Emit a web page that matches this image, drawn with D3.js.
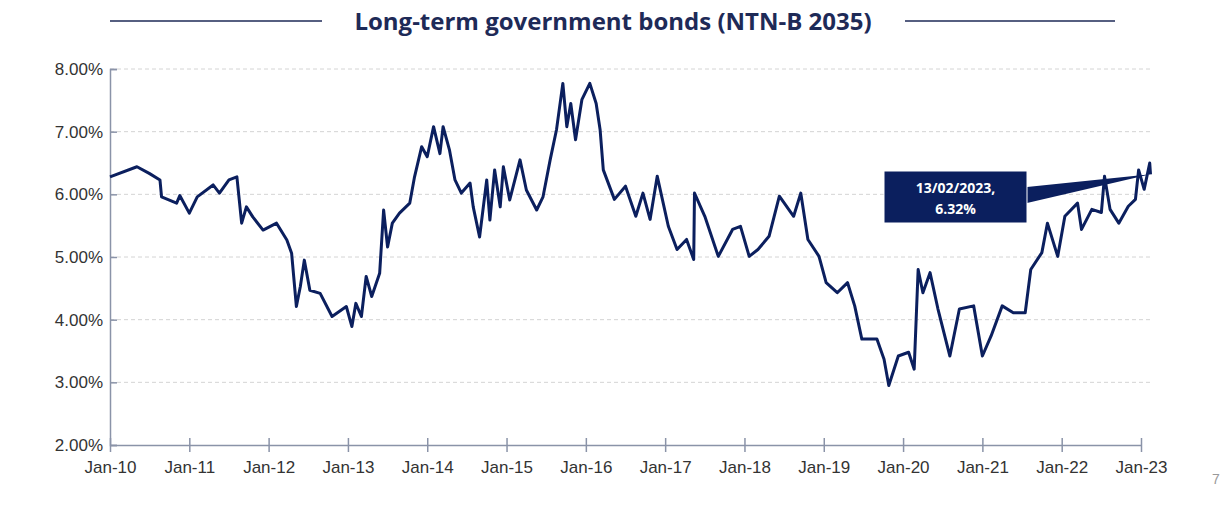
<!DOCTYPE html>
<html>
<head>
<meta charset="utf-8">
<script src="https://cdn.jsdelivr.net/npm/d3@7/dist/d3.min.js"></script>
<style>
  body { margin: 0; background: #fff; }
  svg { display: block; }
</style>
</head>
<body>
<div id="chart"></div>
<script>
// Data: decimal year and yield (%)
var years = [2010.0, 2010.34, 2010.5, 2010.63, 2010.65, 2010.84, 2010.88, 2011.0, 2011.1, 2011.3, 2011.38, 2011.5, 2011.6, 2011.66, 2011.72, 2011.8, 2011.93,
  2012.1, 2012.23, 2012.29, 2012.35, 2012.4, 2012.45, 2012.52, 2012.65, 2012.8, 2012.98, 2013.05, 2013.1, 2013.17, 2013.23, 2013.3, 2013.4,
  2013.45, 2013.5, 2013.56, 2013.65, 2013.78, 2013.84, 2013.93, 2014.0, 2014.08, 2014.16, 2014.2, 2014.28, 2014.35, 2014.43, 2014.54,
  2014.58, 2014.66, 2014.75, 2014.79, 2014.85, 2014.92, 2014.96, 2015.04, 2015.17, 2015.25, 2015.38, 2015.46, 2015.55, 2015.63, 2015.71,
  2015.76, 2015.81, 2015.87, 2015.95, 2016.05, 2016.13, 2016.18, 2016.22, 2016.36, 2016.5, 2016.63, 2016.72, 2016.81, 2016.9, 2017.04,
  2017.15, 2017.27, 2017.36, 2017.37, 2017.5, 2017.67, 2017.85, 2017.95, 2018.06, 2018.17, 2018.31, 2018.44, 2018.62, 2018.71, 2018.8,
  2018.94, 2019.03, 2019.17, 2019.3, 2019.39, 2019.48, 2019.67, 2019.76, 2019.82, 2019.94, 2020.07, 2020.14, 2020.19, 2020.25, 2020.34,
  2020.44, 2020.59, 2020.71, 2020.89, 2021.0, 2021.11, 2021.25, 2021.39, 2021.54, 2021.61, 2021.75, 2021.82, 2021.95, 2022.04, 2022.2,
  2022.25, 2022.38, 2022.5, 2022.54, 2022.61, 2022.72, 2022.84, 2022.93, 2022.97, 2023.04, 2023.11, 2023.12];
var yields = [6.28, 6.44, 6.33, 6.23, 5.96, 5.86, 5.98, 5.70, 5.96, 6.15, 6.02, 6.23, 6.28, 5.54, 5.80, 5.64, 5.43,
  5.54, 5.27, 5.06, 4.21, 4.53, 4.95, 4.47, 4.42, 4.05, 4.21, 3.89, 4.26, 4.05, 4.69, 4.37, 4.74,
  5.75, 5.16, 5.54, 5.70, 5.86, 6.28, 6.76, 6.60, 7.08, 6.65, 7.08, 6.71, 6.23, 6.02, 6.18,
  5.80, 5.32, 6.23, 5.59, 6.39, 5.80, 6.44, 5.91, 6.55, 6.07, 5.75, 5.96, 6.55, 7.03, 7.77,
  7.08, 7.45, 6.87, 7.51, 7.77, 7.45, 7.03, 6.39, 5.92, 6.13, 5.65, 6.02, 5.60, 6.29, 5.49,
  5.12, 5.28, 4.96, 6.02, 5.65, 5.01, 5.44, 5.49, 5.01, 5.12, 5.33, 5.97, 5.65, 6.02, 5.28,
  5.01, 4.59, 4.43, 4.59, 4.22, 3.69, 3.69, 3.37, 2.95, 3.42, 3.48, 3.21, 4.80, 4.43, 4.75,
  4.17, 3.42, 4.17, 4.22, 3.42, 3.74, 4.22, 4.11, 4.11, 4.80, 5.07, 5.54, 5.01, 5.65, 5.86,
  5.44, 5.76, 5.71, 6.29, 5.76, 5.54, 5.81, 5.92, 6.39, 6.08, 6.50, 6.32];
var yTicks = [2, 3, 4, 5, 6, 7, 8];
var xTickYears = [2010, 2011, 2012, 2013, 2014, 2015, 2016, 2017, 2018, 2019, 2020, 2021, 2022, 2023];
var titleText = "Long-term government bonds (NTN-B 2035)";
var calloutLines = ["13/02/2023,", "6.32%"];

var width = 1228, height = 510;
var navy = "#0b1f5e";
var margin = {left: 110, right: 87, top: 69, bottom: 65};

var svg = d3.select("#chart").append("svg").attr("width", width).attr("height", height);

var x = d3.scaleLinear().domain([2010, 2023]).range([margin.left, width - margin.right]);
var y = d3.scaleLinear().domain([2, 8]).range([height - margin.bottom, margin.top]);

// Title with rules on both sides
svg.append("text").attr("x", 613).attr("y", 30).attr("text-anchor", "middle")
  .attr("font-family", "Open Sans").attr("font-weight", "bold").attr("font-size", "24px")
  .attr("fill", "#1e2a57").text(titleText);
svg.append("line").attr("x1", 110).attr("x2", 322).attr("y1", 21).attr("y2", 21).attr("stroke", "#1e2a57").attr("stroke-width", 1.5);
svg.append("line").attr("x1", 905).attr("x2", 1115).attr("y1", 21).attr("y2", 21).attr("stroke", "#1e2a57").attr("stroke-width", 1.5);

// Grid
svg.append("g").selectAll("line").data(yTicks.slice(1)).enter().append("line")
  .attr("x1", margin.left).attr("x2", width - margin.right + 10)
  .attr("y1", function (d) { return y(d); }).attr("y2", function (d) { return y(d); })
  .attr("stroke", "#d4d4d4").attr("stroke-dasharray", "4,3");

// Y axis
var yAxis = svg.append("g").attr("transform", "translate(" + margin.left + ",0)")
  .call(d3.axisRight(y).tickValues(yTicks).tickSize(7).tickFormat(""));
yAxis.select(".domain").attr("stroke", "#8a93a8").attr("stroke-width", 1.5);
yAxis.selectAll(".tick line").attr("stroke", "#8a93a8").attr("stroke-width", 1.5);
svg.append("g").selectAll("text").data(yTicks).enter().append("text")
  .attr("x", margin.left - 7).attr("y", function (d) { return y(d) + 6; })
  .attr("text-anchor", "end").attr("font-family", "Liberation Sans").attr("font-size", "17px")
  .attr("fill", "#333").text(function (d) { return d.toFixed(2) + "%"; });

// X axis
var xAxis = svg.append("g").attr("transform", "translate(0," + y(2) + ")")
  .call(d3.axisBottom(x).tickValues(xTickYears).tickSize(7).tickSizeOuter(0)
    .tickFormat(function (d) { return "Jan-" + String(d).slice(2); }));
xAxis.select(".domain").attr("stroke", "#8a93a8").attr("stroke-width", 1.5);
xAxis.selectAll(".tick line").attr("stroke", "#8a93a8").attr("stroke-width", 1.5).attr("y1", -7);
xAxis.selectAll(".tick text").attr("font-family", "Liberation Sans").attr("font-size", "17px")
  .attr("fill", "#333").attr("dy", "1.05em");

// Series line
var points = years.map(function (d, i) { return [d, yields[i]]; });
svg.append("path").datum(points)
  .attr("fill", "none").attr("stroke", navy).attr("stroke-width", 3).attr("stroke-linejoin", "round")
  .attr("d", d3.line().x(function (d) { return x(d[0]); }).y(function (d) { return y(d[1]); }));

// Callout
var last = points[points.length - 1];
var bx = 884, by = 171, bw = 143, bh = 52;
svg.append("polygon")
  .attr("points", [[bx + bw, by + 16], [x(last[0]), y(last[1])], [bx + bw, by + 32]].join(" "))
  .attr("fill", navy);
svg.append("rect").attr("x", bx).attr("y", by).attr("width", bw).attr("height", bh)
  .attr("fill", navy).attr("stroke", "#fff").attr("stroke-width", 1);
svg.append("g").selectAll("text").data(calloutLines).enter().append("text")
  .attr("x", bx + bw / 2).attr("y", function (d, i) { return by + 22 + i * 21; })
  .attr("text-anchor", "middle").attr("font-family", "Open Sans").attr("font-weight", "bold")
  .attr("font-size", "14px").attr("fill", "#fff").text(function (d) { return d; });

// Page number
svg.append("text").attr("x", 1212).attr("y", 484).attr("font-family", "Liberation Sans")
  .attr("font-size", "14px").attr("fill", "#999").text("7");
</script>
</body>
</html>
